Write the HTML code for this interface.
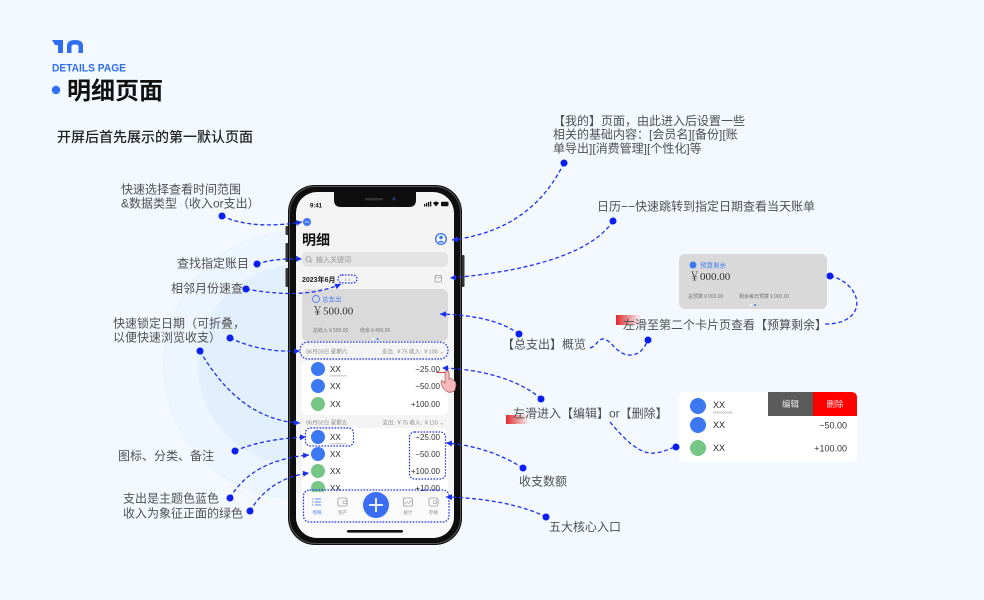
<!DOCTYPE html>
<html><head><meta charset="utf-8">
<style>
html,body{margin:0;padding:0;background:#f3f9ff;}
svg{display:block;}
text{font-family:"Liberation Sans","Noto Sans CJK SC",sans-serif;}
.an{font-size:12px;fill:#505050;}
.ser{font-family:"Liberation Serif","Noto Serif CJK SC",serif;}
.ln{fill:none;stroke:#1a30f0;stroke-width:1.3;stroke-dasharray:4 2.6;}
.dot{fill:#0a1ff0;}
.db{fill:none;stroke:#1a30f0;stroke-width:1.2;stroke-dasharray:1.6 1.4;}
</style></head>
<body>
<svg width="984" height="600" viewBox="0 0 984 600" xmlns="http://www.w3.org/2000/svg">
<defs>
  <marker id="ar" markerWidth="7" markerHeight="7" refX="6" refY="3" orient="auto" markerUnits="userSpaceOnUse">
    <path d="M0,0 L6,3 L0,6 z" fill="#1a30f0"/>
  </marker>
  <linearGradient id="rg" x1="0" x2="1" y1="0" y2="0">
    <stop offset="0" stop-color="#e02a2a"/>
    <stop offset="1" stop-color="#e02a2a" stop-opacity="0"/>
  </linearGradient>
  <clipPath id="scr"><rect x="296" y="192" width="158" height="346" rx="21"/></clipPath>
</defs>

<rect width="984" height="600" fill="#f3f9ff"/>
<!-- background circles -->
<circle cx="298" cy="365" r="135" fill="#eaf4fe"/>
<circle cx="298" cy="365" r="133" fill="#edf5fe"/>
<circle cx="298" cy="365" r="100" fill="#e2effd"/>

<!-- logo -->
<path d="M52,40 L63,40 L63,53 L58,53 L58,45 L55,45 Z" fill="#2f6fef"/>
<path d="M67,53 L67,46 Q67,40 75,40 Q83,40 83,46 L83,53 L78.5,53 L78.5,46.5 Q78.5,44.5 75,44.5 Q71.5,44.5 71.5,46.5 L71.5,53 Z" fill="#2f6fef"/>
<text x="52" y="71.5" font-size="11" font-weight="bold" fill="#2f6fef" textLength="74" lengthAdjust="spacingAndGlyphs">DETAILS PAGE</text>
<circle cx="56" cy="90" r="4.2" fill="#2f6fef"/>
<text x="67" y="99" font-size="24" font-weight="bold" fill="#111">明细页面</text>
<text x="57" y="142" font-size="14" font-weight="500" fill="#222">开屏后首先展示的第一默认页面</text>

<!-- left annotations -->
<text class="an" x="121" y="193.5">快速选择查看时间范围</text>
<text class="an" x="121" y="207.5">&amp;数据类型（收入or支出）</text>
<text class="an" x="249" y="267.5" text-anchor="end">查找指定账目</text>
<text class="an" x="243" y="292.5" text-anchor="end">相邻月份速查</text>
<text class="an" x="113" y="327.5">快速锁定日期（可折叠，</text>
<text class="an" x="113" y="341.5">以便快速浏览收支）</text>
<text class="an" x="118" y="460">图标、分类、备注</text>
<text class="an" x="123" y="502.5">支出是主题色蓝色</text>
<text class="an" x="123" y="517.5">收入为象征正面的绿色</text>

<!-- right annotations -->
<text class="an" x="553" y="125">【我的】页面，由此进入后设置一些</text>
<text class="an" x="553" y="138.5">相关的基础内容：[会员名][备份][账</text>
<text class="an" x="553" y="152.5">单导出][消费管理][个性化]等</text>
<text class="an" x="597" y="210.5">日历−−快速跳转到指定日期查看当天账单</text>
<rect x="616" y="315" width="25" height="10" fill="url(#rg)"/>
<text class="an" x="623" y="329">左滑至第二个卡片页查看【预算剩余】</text>
<text class="an" x="502" y="348.5">【总支出】概览</text>
<rect x="506" y="415" width="23" height="9" fill="url(#rg)"/>
<text class="an" x="513" y="417.5">左滑进入【编辑】or【删除】</text>
<text class="an" x="519" y="485.5">收支数额</text>
<text class="an" x="549" y="531">五大核心入口</text>

<!-- budget card -->
<rect x="679" y="254" width="148" height="55" rx="6" fill="#d9d9d9"/>
<circle cx="693" cy="265" r="3.5" fill="#3b78f2"/>
<text x="700" y="267.5" font-size="6.5" fill="#4a80f0">预算剩余</text>
<text class="ser" x="689" y="280" font-size="11" fill="#333">￥000.00</text>
<text x="688" y="298" font-size="5" fill="#777">总预算￥000.00</text>
<text x="739" y="298" font-size="5" fill="#777">剩余每日预算￥000.00</text>
<circle cx="751" cy="305" r="1" fill="#fff"/>
<circle cx="755" cy="305" r="1" fill="#3b78f2"/>

<!-- swipe card -->
<rect x="679" y="392" width="178" height="70" rx="6" fill="#fff"/>
<rect x="768" y="392" width="45" height="24" fill="#5b5b5b"/>
<path d="M813,392 L851,392 Q857,392 857,398 L857,416 L813,416 Z" fill="#ff0000"/>
<text x="790.5" y="407" font-size="8.5" fill="#e8e8e8" text-anchor="middle">编辑</text>
<text x="835" y="407" font-size="8.5" fill="#ffe0e0" text-anchor="middle">删除</text>
<circle cx="698" cy="406" r="8" fill="#3b78f2"/>
<circle cx="698" cy="425" r="8" fill="#3b78f2"/>
<circle cx="698" cy="448" r="8" fill="#76c786"/>
<text x="713" y="408" font-size="9" fill="#222">XX</text>
<text x="713" y="413.5" font-size="3.5" fill="#888">xxxxxxxxxxx</text>
<text x="713" y="428" font-size="9" fill="#222">XX</text>
<text x="713" y="451" font-size="9" fill="#222">XX</text>
<text x="847" y="428.5" font-size="9" fill="#333" text-anchor="end">−50.00</text>
<text x="847" y="451.5" font-size="9" fill="#333" text-anchor="end">+100.00</text>

<!-- PHONE -->
<rect x="285.5" y="226" width="3" height="9" rx="1" fill="#333"/>
<rect x="285.5" y="243" width="3" height="19" rx="1" fill="#333"/>
<rect x="285.5" y="268" width="3" height="19" rx="1" fill="#333"/>
<rect x="461.5" y="255" width="3" height="32" rx="1" fill="#333"/>
<rect x="288" y="185" width="174" height="360" rx="27" fill="#0e0e0e"/>
<rect x="289.5" y="186.5" width="171" height="357" rx="26" fill="none" stroke="#555" stroke-width="1"/>
<rect x="296" y="192" width="158" height="346" rx="21" fill="#f4f4f4"/>
<g clip-path="url(#scr)">
  <!-- notch -->
  <path d="M334,190 L416,190 L416,200 Q416,207 409,207 L341,207 Q334,207 334,200 Z" fill="#0e0e0e"/>
  <rect x="365" y="198" width="18" height="2.4" rx="1.2" fill="#333"/>
  <circle cx="394" cy="199" r="1.5" fill="#223a7a"/>
  <!-- status -->
  <text x="310" y="207.5" font-size="6" font-weight="bold" fill="#111">9:41</text>
  <rect x="424" y="204" width="1.3" height="2.5" fill="#111"/>
  <rect x="426" y="203" width="1.3" height="3.5" fill="#111"/>
  <rect x="428" y="202" width="1.3" height="4.5" fill="#111"/>
  <rect x="430" y="201.5" width="1.3" height="5" fill="#111"/>
  <path d="M433,203 Q436,200 439,203 L436,206.5 Z" fill="#111"/>
  <rect x="441" y="201.8" width="7.5" height="4.5" rx="1" fill="#111"/>

  <circle cx="307" cy="222" r="4" fill="#3b78f2"/>
  <text x="307" y="223.2" font-size="4" fill="#fff" text-anchor="middle">•••</text>
  <text x="302" y="245" font-size="14" font-weight="bold" fill="#111">明细</text>
  <circle cx="441" cy="239" r="6" fill="#3b78f2"/>
  <circle cx="441" cy="239" r="4.6" fill="#fff"/>
  <circle cx="441" cy="237.5" r="1.8" fill="#3b78f2"/>
  <path d="M437.5,242.5 Q441,238.8 444.5,242.5 Z" fill="#3b78f2"/>

  <rect x="302" y="252" width="146" height="15" rx="5" fill="#e3e3e3"/>
  <circle cx="308.5" cy="259" r="2.4" fill="none" stroke="#999" stroke-width="0.8"/>
  <line x1="310.3" y1="260.8" x2="312" y2="262.5" stroke="#999" stroke-width="0.8"/>
  <text x="316" y="262" font-size="7" fill="#999">输入关键词</text>

  <text x="302" y="282" font-size="7" font-weight="bold" fill="#222">2023年6月</text>
  <text x="347.5" y="281.5" font-size="6" fill="#888" text-anchor="middle">‹  ›</text>
  <rect x="338" y="275" width="19" height="8" rx="4" class="db"/>
  <rect x="435" y="275.5" width="6.5" height="6.5" rx="1" fill="none" stroke="#999" stroke-width="0.8"/>
  <line x1="435" y1="277.5" x2="441.5" y2="277.5" stroke="#999" stroke-width="0.6"/>

  <rect x="302" y="289" width="146" height="52" rx="5" fill="#dadada"/>
  <circle cx="316" cy="299" r="3.5" fill="none" stroke="#4a80f0" stroke-width="0.9"/>
  <text x="322" y="301.5" font-size="6.5" fill="#4a80f0">总支出</text>
  <text class="ser" x="312" y="314.5" font-size="11" fill="#333">￥500.00</text>
  <text x="313" y="332" font-size="5" fill="#777">总收入￥500.00</text>
  <text x="360" y="332" font-size="5" fill="#777">结余￥400.00</text>
  <circle cx="373" cy="339" r="1" fill="#fff"/>
  <circle cx="377.5" cy="339" r="1" fill="#3b78f2"/>

  <text x="306" y="353.5" font-size="5.5" fill="#888">06月03日 星期六</text>
  <text x="444" y="353.5" font-size="5.5" fill="#888" text-anchor="end">支出: ￥75  收入: ￥100 ⌄</text>

  <rect x="302" y="361" width="146" height="54" rx="5" fill="#fff"/>
  <circle cx="318" cy="369" r="7" fill="#3b78f2"/>
  <circle cx="318" cy="386" r="7" fill="#3b78f2"/>
  <circle cx="318" cy="404" r="7" fill="#76c786"/>
  <text x="330" y="372" font-size="8" fill="#222">XX</text>
  <text x="330" y="376.5" font-size="3" fill="#888">xxxxxxxxxxx</text>
  <text x="330" y="389" font-size="8" fill="#222">XX</text>
  <text x="330" y="407" font-size="8" fill="#222">XX</text>
  <text x="440" y="372" font-size="8" fill="#333" text-anchor="end">−25.00</text>
  <text x="440" y="389" font-size="8" fill="#333" text-anchor="end">−50.00</text>
  <text x="440" y="407" font-size="8" fill="#333" text-anchor="end">+100.00</text>

  <text x="306" y="424.5" font-size="5.5" fill="#888">06月02日 星期五</text>
  <text x="444" y="424.5" font-size="5.5" fill="#888" text-anchor="end">支出: ￥75  收入: ￥110 ⌄</text>

  <rect x="302" y="428" width="146" height="80" rx="5" fill="#fff"/>
  <circle cx="318" cy="437" r="7" fill="#3b78f2"/>
  <circle cx="318" cy="454" r="7" fill="#3b78f2"/>
  <circle cx="318" cy="471" r="7" fill="#76c786"/>
  <circle cx="318" cy="488" r="7" fill="#76c786"/>
  <text x="330" y="440" font-size="8" fill="#222">XX</text>
  <text x="330" y="444.5" font-size="3" fill="#888">xxxxxxxxxxx</text>
  <text x="330" y="457" font-size="8" fill="#222">XX</text>
  <text x="330" y="474" font-size="8" fill="#222">XX</text>
  <text x="330" y="491" font-size="8" fill="#222">XX</text>
  <text x="440" y="440" font-size="8" fill="#333" text-anchor="end">−25.00</text>
  <text x="440" y="457" font-size="8" fill="#333" text-anchor="end">−50.00</text>
  <text x="440" y="474" font-size="8" fill="#333" text-anchor="end">+100.00</text>
  <text x="440" y="491" font-size="8" fill="#333" text-anchor="end">+10.00</text>

  <!-- tab bar -->
  <rect x="296" y="492" width="158" height="50" fill="#fafafa"/>
  <line x1="296" y1="492" x2="454" y2="492" stroke="#e6e6e6" stroke-width="0.6"/>
  <g stroke="#5b8cf2" stroke-width="1">
    <line x1="312" y1="499" x2="313.5" y2="499"/><line x1="315" y1="499" x2="321" y2="499"/>
    <line x1="312" y1="502" x2="313.5" y2="502"/><line x1="315" y1="502" x2="321" y2="502"/>
    <line x1="312" y1="505" x2="313.5" y2="505"/><line x1="315" y1="505" x2="321" y2="505"/>
  </g>
  <text x="317" y="514" font-size="4.5" fill="#5b8cf2" text-anchor="middle">明细</text>
  <rect x="338" y="498" width="9" height="8" rx="1.5" fill="none" stroke="#999" stroke-width="0.8"/>
  <rect x="343" y="501" width="4" height="2.5" fill="none" stroke="#999" stroke-width="0.6"/>
  <text x="342.5" y="514" font-size="4.5" fill="#888" text-anchor="middle">资产</text>
  <circle cx="376" cy="505" r="13" fill="#3b6ef0"/>
  <line x1="369" y1="505" x2="383" y2="505" stroke="#fff" stroke-width="1.8"/>
  <line x1="376" y1="498" x2="376" y2="512" stroke="#fff" stroke-width="1.8"/>
  <rect x="403.5" y="498" width="9" height="8" rx="1" fill="none" stroke="#999" stroke-width="0.8"/>
  <path d="M404.5,504 L407,502 L409,503.5 L411.5,500.5" fill="none" stroke="#999" stroke-width="0.6"/>
  <text x="408" y="514" font-size="4.5" fill="#888" text-anchor="middle">统计</text>
  <rect x="429" y="498" width="9" height="8" rx="2" fill="none" stroke="#999" stroke-width="0.8"/>
  <rect x="433.5" y="500.5" width="3" height="3" fill="none" stroke="#999" stroke-width="0.6"/>
  <text x="433.5" y="514" font-size="4.5" fill="#888" text-anchor="middle">存钱</text>

  <rect x="347" y="530" width="56" height="2.6" rx="1.3" fill="#111"/>
</g>

<!-- dotted highlight boxes -->
<rect x="300" y="342" width="148" height="17" rx="8" class="db"/>
<rect x="305.5" y="428" width="48" height="18" rx="5" class="db"/>
<rect x="409.5" y="432" width="36" height="47" rx="5" class="db"/>
<rect x="303.5" y="490" width="145.5" height="32" rx="6" class="db"/>

<!-- hand cursor -->
<line x1="436" y1="372.5" x2="446" y2="372.5" stroke="#e03030" stroke-width="0.9"/>
<circle cx="446.5" cy="372.5" r="1.6" fill="#e03030"/>
<path d="M445,373 Q445,370.5 447,370.5 Q449,370.5 449,373 L449,379 Q451,378 453,380 Q456,381 456,385 L455,390 Q452,393 448,392 Q444,390 442,386 L441,382 Q441,380 443,381 L445,383 Z" fill="#f7b9b9" stroke="#a05858" stroke-width="0.7"/>

<!-- connectors -->
<path class="ln" d="M222,216 Q252,230 302,222" marker-end="url(#ar)"/>
<path class="ln" d="M257,264 Q275,258 302,259" marker-end="url(#ar)"/>
<path class="ln" d="M246,289 Q305,300 341,284" marker-end="url(#ar)"/>
<path class="ln" d="M230,338 Q262,353 300,351" marker-end="url(#ar)"/>
<path class="ln" d="M200,351 Q240,420 300,423" marker-end="url(#ar)"/>
<path class="ln" d="M235,451 Q262,439 306,437" marker-end="url(#ar)"/>
<path class="ln" d="M230,498 Q252,460 309,455" marker-end="url(#ar)"/>
<path class="ln" d="M250,511 Q270,478 309,473" marker-end="url(#ar)"/>
<path class="ln" d="M564,163 C540,212 500,234 452,240" marker-end="url(#ar)"/>
<path class="ln" d="M613,221 C590,256 520,272 450,278" marker-end="url(#ar)"/>
<path class="ln" d="M519,334 C500,320 472,315 440,314" marker-end="url(#ar)"/>
<path class="ln" d="M541,399 C520,380 482,369 442,368" marker-end="url(#ar)"/>
<path class="ln" d="M523,468 C502,455 476,445 446,443" marker-end="url(#ar)"/>
<path class="ln" d="M546,517 C522,505 486,498 446,497" marker-end="url(#ar)"/>
<path class="ln" d="M590,348 C597,346 598,338 604,339 C612,341 618,356 631,355 C642,354 645,346 648,340"/>
<path class="ln" d="M830,276 C850,280 864,300 853,314 C846,322 836,324 825,324"/>
<path class="ln" d="M610,422 C625,440 640,455 655,453 C665,452 670,448 676,447"/>

<!-- dots -->
<circle class="dot" cx="222" cy="216" r="3.5"/>
<circle class="dot" cx="257" cy="264" r="3.5"/>
<circle class="dot" cx="246" cy="289" r="3.5"/>
<circle class="dot" cx="230" cy="338" r="3.5"/>
<circle class="dot" cx="200" cy="351" r="3.5"/>
<circle class="dot" cx="235" cy="451" r="3.5"/>
<circle class="dot" cx="230" cy="498" r="3.5"/>
<circle class="dot" cx="250" cy="511" r="3.5"/>
<circle class="dot" cx="564" cy="163" r="3.5"/>
<circle class="dot" cx="613" cy="221" r="3.5"/>
<circle class="dot" cx="519" cy="334" r="3.5"/>
<circle class="dot" cx="648" cy="340" r="3.5"/>
<circle class="dot" cx="830" cy="276" r="3.5"/>
<circle class="dot" cx="541" cy="399" r="3.5"/>
<circle class="dot" cx="676" cy="447" r="3.5"/>
<circle class="dot" cx="523" cy="468" r="3.5"/>
<circle class="dot" cx="546" cy="517" r="3.5"/>
</svg>
</body></html>
